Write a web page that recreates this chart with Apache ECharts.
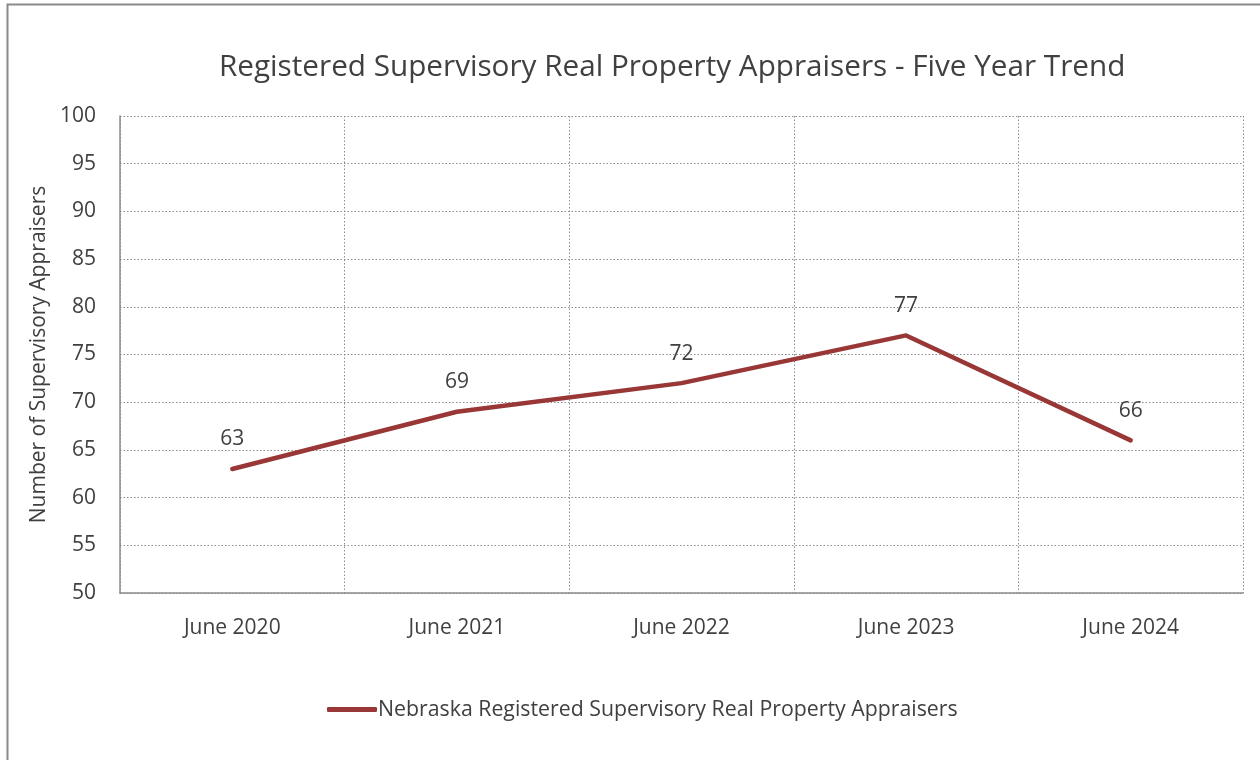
<!DOCTYPE html>
<html><head><meta charset="utf-8">
<script src="https://cdn.jsdelivr.net/npm/echarts@6/dist/echarts.min.js"></script>
<style>html,body{margin:0;padding:0;background:#fff}#c{width:1260px;height:760px}</style>
</head><body><div id="c"></div>
<script>
var categories = ['June 2020','June 2021','June 2022','June 2023','June 2024'];
var values = [63, 69, 72, 77, 66];
var seriesName = 'Nebraska Registered Supervisory Real Property Appraisers';
var titleText = 'Registered Supervisory Real Property Appraisers - Five Year Trend';
var yAxisName = 'Number of Supervisory Appraisers';

var FONT = '"Open Sans", "Noto Sans", sans-serif';
var LINE_COLOR = '#993737';
var chart = echarts.init(document.getElementById('c'));
chart.setOption({
  animation: false,
  backgroundColor: '#fff',
  textStyle: {fontFamily: FONT},
  graphic: [{
    type: 'rect', shape: {x: 7.5, y: 4.5, width: 1300, height: 800},
    style: {fill: 'none', stroke: '#8a8a8a', lineWidth: 2}, silent: true
  }],
  title: {
    text: titleText, left: 214, top: 48,
    textStyle: {fontFamily: FONT, fontSize: 29.7, fontWeight: 'normal', color: '#404040'}
  },
  legend: {
    data: [seriesName], top: 694, left: 322,
    itemWidth: 50, itemHeight: 5, itemGap: 0,
    icon: 'roundRect',
    itemStyle: {color: LINE_COLOR, opacity: 1, borderWidth: 0},
    textStyle: {fontFamily: FONT, fontSize: 21.3, color: '#404040', padding: [0,0,0,-4]}
  },
  grid: {left: 120, top: 116, right: 17, bottom: 167, containLabel: false},
  xAxis: {
    type: 'category', data: categories, boundaryGap: true,
    axisLine: {show: true, lineStyle: {color: '#8c8c8c', width: 1.5}},
    axisTick: {show: false},
    axisLabel: {fontFamily: FONT, fontSize: 21, color: '#404040', margin: 25},
    splitLine: {show: true, lineStyle: {color: '#8c8c8c', type: [1.5, 2], width: 1}}
  },
  yAxis: {
    type: 'value', min: 50, max: 100, interval: 5,
    name: yAxisName, nameLocation: 'middle', nameGap: 70, nameRotate: 90,
    nameTextStyle: {fontFamily: FONT, fontSize: 21, color: '#404040'},
    axisLine: {show: true, lineStyle: {color: '#8c8c8c', width: 1.5}},
    axisTick: {show: false},
    axisLabel: {fontFamily: FONT, fontSize: 21, color: '#404040', margin: 24},
    splitLine: {show: true, lineStyle: {color: '#8c8c8c', type: [1.5, 2], width: 1}}
  },
  series: [{
    name: seriesName, type: 'line', data: values,
    symbol: 'circle', symbolSize: 2, showSymbol: true,
    lineStyle: {color: LINE_COLOR, width: 4.5, cap: 'round', join: 'round'},
    itemStyle: {color: LINE_COLOR},
    label: {show: true, position: 'top', distance: 18, fontFamily: FONT, fontSize: 21, color: '#404040'}
  }]
});
</script></body></html>
